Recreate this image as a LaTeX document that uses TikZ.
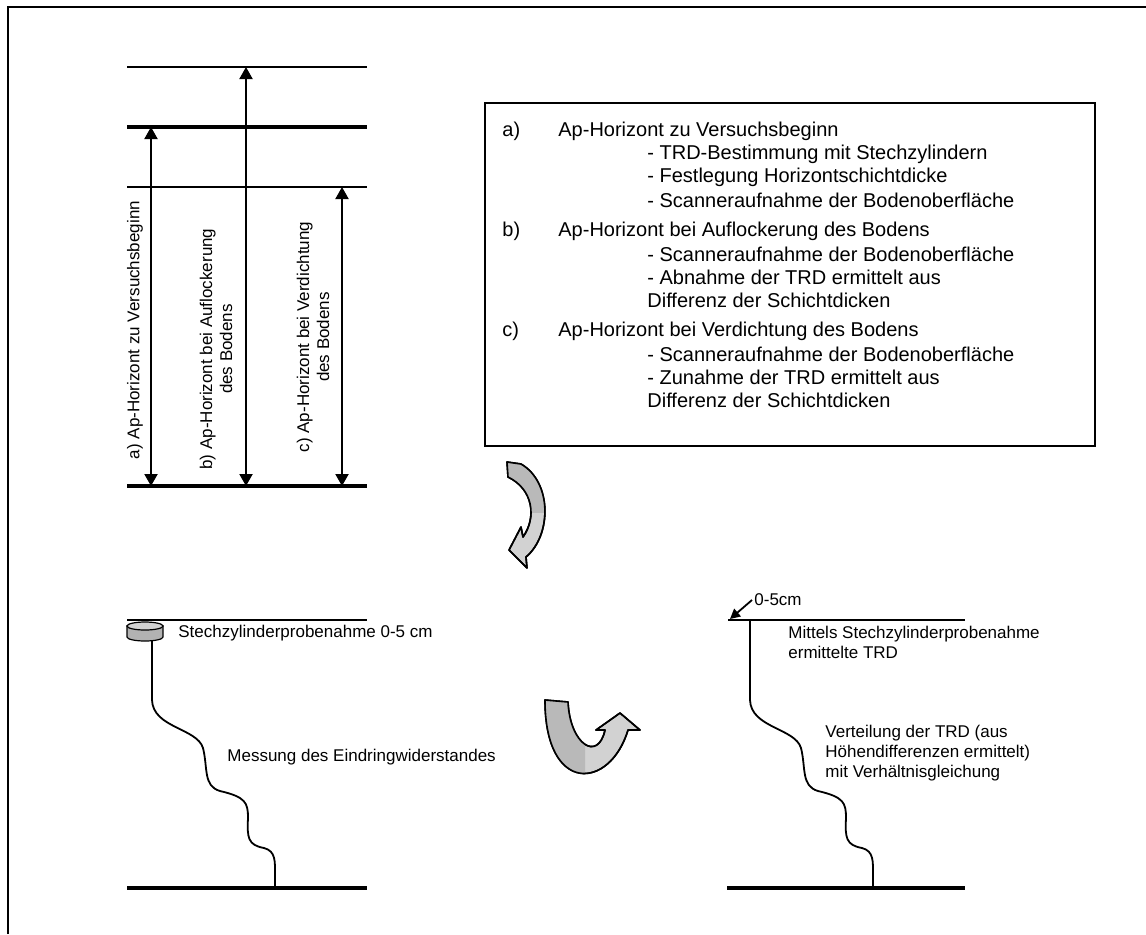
\documentclass[tikz,border=0pt]{standalone}
\usepackage{fontspec}
\setmainfont{Liberation Sans}
\usetikzlibrary{arrows.meta}

\tikzset{
  frame/.style={line width=1pt},
  horizon/.style={line width=0.9pt},
  thickhorizon/.style={line width=2.3pt},
  dimarrow/.style={line width=1pt, {Triangle[width=6.5pt,length=6pt]}-{Triangle[width=6.5pt,length=6pt]}},
  pointer/.style={line width=0.9pt, -{Triangle[width=5pt,length=5pt]}},
  sidelabel/.style={rotate=90, align=center, inner sep=0pt, font=\fontsize{8.5}{10}\selectfont},
  boxtext/.style={anchor=west, inner sep=0pt, font=\fontsize{10}{12}\selectfont},
  smalltext/.style={anchor=west, align=left, inner sep=0pt, font=\fontsize{8.5}{10}\selectfont},
  profile/.style={line width=0.9pt},
  bendarrow/.style={draw=black, line width=0.8pt, line join=round},
}

\begin{document}
\begin{tikzpicture}[x=0.5pt,y=-0.5pt]
\useasboundingbox (0,0) rectangle (1146,934);

% Frame
\draw[frame] (8,934) -- (8,7) -- (1146,7);

% Horizons before and after
\draw[horizon] (127,67) -- (367,67);
\draw[thickhorizon] (127,127) -- (367,127);
\draw[horizon] (127,187) -- (367,187);
\draw[thickhorizon] (127,486) -- (367,486);

% Layer thickness a), b), c)
\coordinate (aTop) at (151,127);
\coordinate (aBot) at (151,486);
\coordinate (bTop) at (246,67);
\coordinate (bBot) at (246,486);
\coordinate (cTop) at (342,187);
\coordinate (cBot) at (342,486);
\draw[dimarrow] (aTop) -- (aBot);
\draw[dimarrow] (bTop) -- (bBot);
\draw[dimarrow] (cTop) -- (cBot);

\node[sidelabel] (labA) at (135,330) {a) Ap-Horizont zu Versuchsbeginn};
\node[sidelabel] (labB) at (216,349) {b) Ap-Horizont bei Auflockerung\\des Bodens};
\node[sidelabel] (labC) at (313,337) {c) Ap-Horizont bei Verdichtung\\des Bodens};

% Legend
\draw[frame] (485,103) rectangle (1095,446);
\node[boxtext] (keyA) at (502,131) {a)};
\node[boxtext] (headA) at (558,131) {Ap-Horizont zu Versuchsbeginn};
\node[boxtext] (itemA1) at (647,154) {- TRD-Bestimmung mit Stechzylindern};
\node[boxtext] (itemA2) at (647,177) {- Festlegung Horizontschichtdicke};
\node[boxtext] (itemA3) at (647,200) {- Scanneraufnahme der Bodenoberfläche};
\node[boxtext] (keyB) at (502,231) {b)};
\node[boxtext] (headB) at (558,231) {Ap-Horizont bei Auflockerung des Bodens};
\node[boxtext] (itemB1) at (647,254) {- Scanneraufnahme der Bodenoberfläche};
\node[boxtext] (itemB2) at (647,277) {- Abnahme der TRD ermittelt aus};
\node[boxtext] (itemB3) at (647,300) {Differenz der Schichtdicken};
\node[boxtext] (keyC) at (502,331) {c)};
\node[boxtext] (headC) at (558,331) {Ap-Horizont bei Verdichtung des Bodens};
\node[boxtext] (itemC1) at (647,354) {- Scanneraufnahme der Bodenoberfläche};
\node[boxtext] (itemC2) at (647,377) {- Zunahme der TRD ermittelt aus};
\node[boxtext] (itemC3) at (647,400) {Differenz der Schichtdicken};

% Curved arrow down
\path[bendarrow, fill=gray!35]
  (507,462) -- (521,464) .. controls (552,482) and (552,535) .. (526,557)
  -- (527,568) -- (509,550) -- (521,527) -- (523,537)
  .. controls (537,517) and (533,489) .. (508,477) -- cycle;
\begin{scope}
  \clip (490,455) rectangle (560,512);
  \fill[gray!55] (507,462) -- (521,464) .. controls (552,482) and (552,535) .. (526,557)
    -- (523,537) .. controls (537,517) and (533,489) .. (508,477) -- cycle;
\end{scope}
\draw[bendarrow]
  (507,462) -- (521,464) .. controls (552,482) and (552,535) .. (526,557)
  -- (527,568) -- (509,550) -- (521,527) -- (523,537)
  .. controls (537,517) and (533,489) .. (508,477) -- cycle;

% Soil profiles
\draw[horizon] (127,620) -- (367,620);
\draw[thickhorizon] (127,888) -- (367,888);
\draw[horizon] (728,620) -- (965,620);
\draw[thickhorizon] (727,888) -- (965,888);

% Sampling cylinder
\draw[line width=0.6pt, fill=gray!60] (127,626) -- (127,637)
  arc[start angle=180, end angle=360, x radius=9pt, y radius=2pt] -- (163,626) -- cycle;
\draw[line width=0.6pt, fill=gray!35] (145,626) ellipse [x radius=9pt, y radius=2pt];

\foreach \dx/\ys in {0/640, 598/620}
  \draw[profile] (152+\dx,\ys) -- (152+\dx,700)
    .. controls (153+\dx,728) and (197+\dx,728) .. (203+\dx,748)
    .. controls (208+\dx,768) and (203+\dx,786) .. (220+\dx,791)
    .. controls (246+\dx,797) and (248+\dx,803) .. (248+\dx,818)
    .. controls (247+\dx,838) and (248+\dx,845) .. (264+\dx,848)
    .. controls (276+\dx,851) and (275+\dx,862) .. (275+\dx,875)
    -- (275+\dx,888);

\node[smalltext] (cylText) at (178,633) {Stechzylinderprobenahme 0-5 cm};
\node[smalltext] (penText) at (227,757) {Messung des Eindringwiderstandes};

\coordinate (surfRight) at (730,619);
\node[smalltext] (depthText) at (754,600) {0-5cm};
\draw[pointer] ([xshift=-1pt]depthText.west) -- (surfRight);
\node[smalltext] (sampleText) at (788,642) {Mittels Stechzylinderprobenahme\\ermittelte TRD};
\node[smalltext] (distText) at (825,753) {Verteilung der TRD (aus\\Höhendifferenzen ermittelt)\\mit Verhältnisgleichung};

% U-turn arrow
\path[bendarrow, fill=gray!35]
  (545,700) -- (568,702) .. controls (570,745) and (598,762) .. (605,730)
  -- (596,730) -- (620,713) -- (640,730) -- (628,730)
  .. controls (610,790) and (545,795) .. cycle;
\begin{scope}
  \clip (530,690) rectangle (585,800);
  \fill[gray!55] (545,700) -- (568,702) .. controls (570,745) and (598,762) .. (605,730)
    -- (628,730) .. controls (610,790) and (545,795) .. cycle;
\end{scope}
\draw[bendarrow]
  (545,700) -- (568,702) .. controls (570,745) and (598,762) .. (605,730)
  -- (596,730) -- (620,713) -- (640,730) -- (628,730)
  .. controls (610,790) and (545,795) .. cycle;

\end{tikzpicture}
\end{document}
